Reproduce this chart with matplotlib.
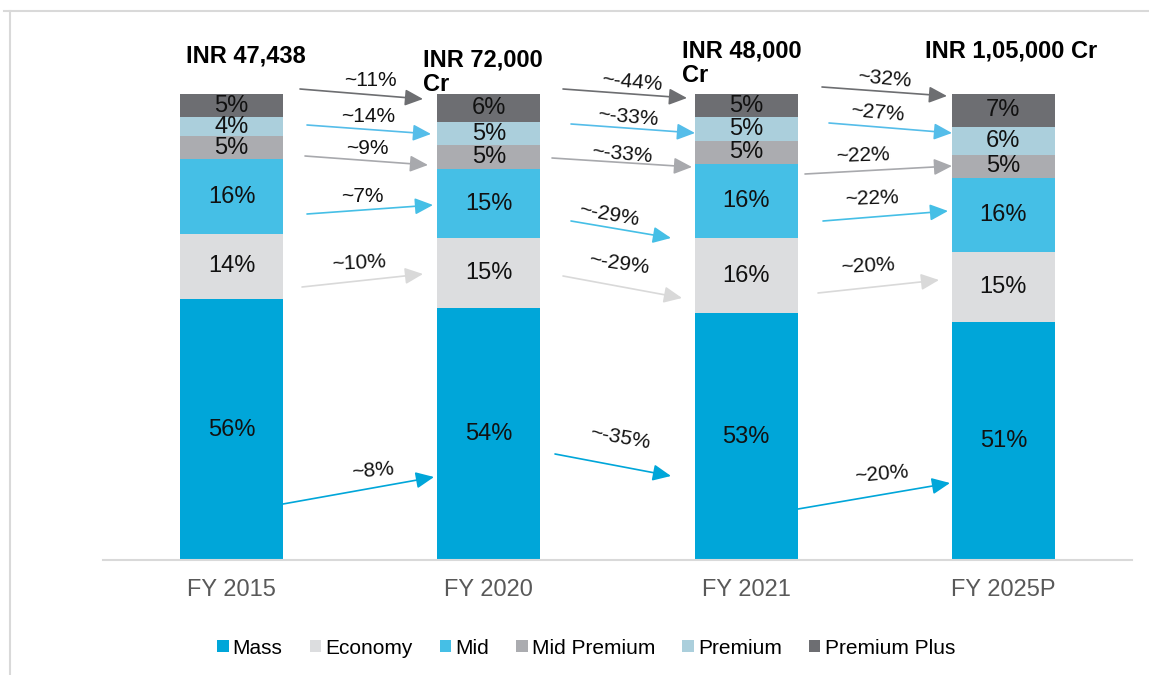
import numpy as np
import matplotlib.pyplot as plt
from matplotlib.patches import Patch
from matplotlib.lines import Line2D

plt.rcParams['font.family'] = ['Liberation Sans', 'DejaVu Sans']

# --- data
years = ['FY 2015', 'FY 2020', 'FY 2021', 'FY 2025P']
totals = ['INR 47,438', 'INR 72,000\nCr', 'INR 48,000\nCr', 'INR 1,05,000 Cr']
segments = ['Mass', 'Economy', 'Mid', 'Mid Premium', 'Premium', 'Premium Plus']

mass = [56, 54, 53, 51]
economy = [14, 15, 16, 15]
mid = [16, 15, 16, 16]
mid_premium = [5, 5, 5, 5]
premium = [4, 5, 5, 6]
premium_plus = [5, 6, 5, 7]

# growth between consecutive years, one list per segment (3 gaps)
growth_mass = ['~8%', '~-35%', '~20%']
growth_economy = ['~10%', '~-29%', '~20%']
growth_mid = ['~7%', '~-29%', '~22%']
growth_mid_premium = ['~9%', '~-33%', '~22%']
growth_premium = ['~14%', '~-33%', '~27%']
growth_premium_plus = ['~11%', '~-44%', '~32%']

# --- styling
seg_colors = ['#00a6d9', '#dcdddf', '#45bfe6', '#abacb0', '#abcfdc', '#6d6e72']
arrow_colors = ['#00a6d9', '#d9d9d9', '#45bfe6', '#a8a9ad', '#55bde9', '#6d6e71']

W, H = 1149, 675
fig = plt.figure(figsize=(W / 100, H / 100), dpi=100)
ax = fig.add_axes([103 / W, 1 - 560 / H, (1132 - 103) / W, (560 - 94) / H])

values = np.array([mass, economy, mid, mid_premium, premium, premium_plus])
x = np.arange(len(years))
bottom = np.zeros(len(years))
for i, name in enumerate(segments):
    ax.bar(x, values[i], 0.4, bottom=bottom, color=seg_colors[i], label=name)
    for xi, b, v in zip(x, bottom, values[i]):
        ax.text(xi, b + v / 2, f'{v}%', ha='center', va='center',
                fontsize=17, color='#111111')
    bottom += values[i]

ax.set_xlim(-0.5, 3.5)
ax.set_ylim(0, 100)
ax.set_xticks(x)
ax.set_xticklabels(years, fontsize=17, color='#595959')
ax.tick_params(axis='x', length=0, pad=14)
ax.set_yticks([])
for s in ['top', 'right', 'left']:
    ax.spines[s].set_visible(False)
ax.spines['bottom'].set_color('#d9d9d9')
ax.spines['bottom'].set_linewidth(1.5)

fig.canvas.draw()
inv = ax.transData.inverted()


def px(xp, yp):
    # image pixel (top-left origin) -> data coordinates
    return tuple(inv.transform((xp, H - yp)))


# total market size headers
header_pos = [(186, 56), (423, 72), (682, 63), (925, 51)]
for t, (hx, hy) in zip(totals, header_pos):
    ax.text(*px(hx, hy), t, ha='left', va='center', fontsize=17,
            fontweight='bold', linespacing=1.1, clip_on=False)

# arrow layout per segment: (x0, y0, x1, y1, label x, label y, rotation) per gap
arrow_layout = {
    'Mass': [(283, 504, 434, 477, 373, 471, 5),
             (555, 454, 671, 476, 620, 438, -10),
             (798, 509, 950, 483, 882, 474, 5)],
    'Economy': [(302, 287, 423, 274, 359, 263, 3),
                (563, 276, 682, 298, 619, 264, -8),
                (818, 293, 939, 280, 868, 266, 3)],
    'Mid': [(307, 214, 433, 205, 362, 196, 0),
            (571, 221, 671, 238, 609, 215, -10),
            (823, 221, 948, 211, 872, 199, 2)],
    'Mid Premium': [(305, 156, 428, 165, 367, 148, 0),
                    (552, 158, 692, 167, 622, 154, -5),
                    (805, 174, 952, 166, 863, 156, 2)],
    'Premium': [(307, 125, 431, 134, 368, 117, 0),
                (571, 124, 695, 133, 628, 117, -5),
                (829, 123, 952, 133, 878, 113, -5)],
    'Premium Plus': [(300, 89, 423, 99, 370, 80, 0),
                     (563, 89, 687, 98, 632, 82, -5),
                     (822, 87, 947, 96, 885, 79, -5)],
}
growth = [growth_mass, growth_economy, growth_mid, growth_mid_premium,
          growth_premium, growth_premium_plus]

for i, name in enumerate(segments):
    for lab, (x0, y0, x1, y1, lx, ly, rot) in zip(growth[i], arrow_layout[name]):
        ax.annotate('', xy=px(x1, y1), xytext=px(x0, y0), annotation_clip=False,
                    arrowprops=dict(arrowstyle='-|>,head_length=1.1,head_width=0.5',
                                    mutation_scale=10, color=arrow_colors[i],
                                    lw=1.2, shrinkA=0, shrinkB=0))
        ax.text(*px(lx, ly), lab, ha='center', va='center', fontsize=15,
                rotation=rot, rotation_mode='anchor', color='#111111', clip_on=False)

# legend
handles = [Patch(facecolor=c, edgecolor='none') for c in seg_colors]
fig.legend(handles, segments, loc='center', bbox_to_anchor=(586 / W, 1 - 648 / H),
           ncol=6, frameon=False, fontsize=15, handlelength=0.55, handleheight=0.55,
           handletextpad=0.2, columnspacing=1.3, borderaxespad=0)

# outer frame
fig.add_artist(Line2D([4 / W, 1], [1 - 11 / H, 1 - 11 / H], color='#d9d9d9', lw=1.5))
fig.add_artist(Line2D([10 / W, 10 / W], [0, 1 - 11 / H], color='#d9d9d9', lw=1.5))

fig.savefig('out.png', dpi=100)
